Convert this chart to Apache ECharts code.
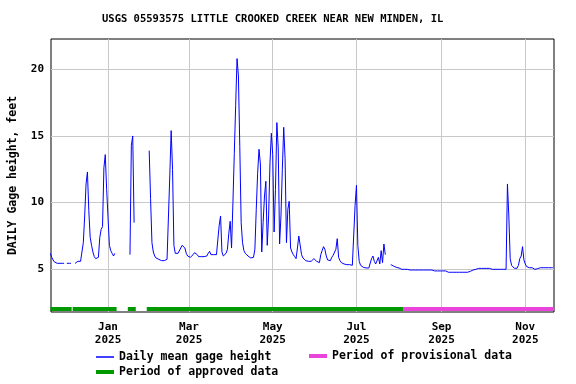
<!DOCTYPE html>
<html lang="en">
<head>
    <meta charset="UTF-8">
    <title>USGS 05593575</title>
    <script src="https://cdn.jsdelivr.net/npm/echarts@6/dist/echarts.min.js"></script>
    <style>
        *{
            margin: 0;
            padding: 0;
        }
        html,body{
            width: 100%;
            height: 100%;
            overflow: hidden;
            background: #fff;
        }
        .container{
            width: 576px;
            height: 384px;
        }
    </style>
</head>
<body>
<div class="container"></div>
<script>
    // daily mean gage height (feet), one value per day from 2024-11-20, null = no data
    const nov2024 = [6.2, 5.9, 5.7, 5.55, 5.5, 5.45, 5.45, 5.45, 5.45, 5.45, 5.45]
    const dec2024 = [null, 5.45, 5.45, 5.45, 5.45, null, null, 5.45, 5.55, 5.6,
        5.65, 5.6, 5.55, 7.0, 9.0, 11.4, 12.3, 9.4, 7.4, 6.8,
        6.3, 5.95, 5.8, 5.8, 5.9, 7.4, 8.0, 8.2, 12.6, 13.6, 11.0]
    const jan2025 = [8.9, 6.8, 6.4, 6.2, 6.0, 6.2, null, null, null, null,
        null, null, null, null, null, null, 6.1, 14.3, 15.0, 8.5,
        null, null, null, null, null, null, null, null, null, null, 13.9]
    const feb2025 = [10.3, 7.0, 6.3, 6.0, 5.85, 5.8, 5.75, 5.7, 5.65, 5.6,
        5.65, 5.7, 5.75, 5.8, 12.0, 15.4, 12.5, 6.8, 6.2, 6.1,
        6.2, 6.3, 6.6, 6.8, 6.9, 6.6, 6.2, 6.0]
    const mar2025 = [5.95, 5.9, 6.0, 6.1, 6.25, 6.3, 6.1, 5.95, 5.95, 5.95,
        5.95, 5.95, 6.0, 6.0, 6.2, 6.35, 6.1, 6.1, 6.1, 6.1,
        6.1, 7.2, 8.3, 9.0, 6.3, 6.0, 5.95, 6.2, 6.5, 7.7, 8.6]
    const apr2025 = [6.6, 10.0, 13.7, 17.3, 20.8, 19.5, 14.2, 8.5, 7.0, 6.4,
        6.2, 6.1, 6.0, 5.9, 5.85, 5.85, 5.9, 6.5, 9.5, 12.2,
        14.0, 12.9, 6.3, 8.5, 10.5, 11.6, 6.8, 9.0, 13.0, 15.2]
    const may2025 = [13.6, 7.8, 11.0, 16.0, 14.1, 6.9, 9.0, 12.5, 15.65, 13.3,
        7.0, 9.5, 10.1, 6.6, 6.3, 6.1, 5.95, 5.8, 6.6, 7.5,
        7.4, 6.1, 5.85, 5.75, 5.65, 5.65, 5.6, 5.6, 5.6, 5.6, 5.8]
    const jun2025 = [5.7, 5.6, 5.55, 5.5, 6.1, 6.4, 6.7, 6.5, 6.0, 5.7,
        5.65, 5.65, 5.9, 6.05, 6.05, 6.5, 7.3, 5.9, 5.65, 5.5,
        5.45, 5.4, 5.35, 5.35, 5.35, 5.35, 5.35, 5.3, 5.3, 9.8]
    const jul2025 = [11.3, 6.8, 5.6, 5.3, 5.2, 5.15, 5.1, 5.1, 5.1, 5.1,
        5.2, 5.8, 6.0, 5.6, 5.4, 5.4, 5.9, 5.4, 6.4, 5.5,
        6.9, 6.1, null, null, null, 5.35, 5.25, 5.25, 5.25, 5.15, 5.15]
    const aug2025 = [5.1, 5.0, 5.0, 5.0, 5.0, 5.0, 5.0, 5.0, 4.95, 4.95,
        4.95, 4.95, 4.95, 4.95, 4.95, 4.95, 4.95, 4.95, 4.95, 4.95,
        4.95, 4.95, 4.95, 4.95, 4.95, 4.95, 4.88, 4.88, 4.88, 4.88, 4.88]
    const sep2025 = [4.88, 4.88, 4.88, 4.88, 4.78, 4.78, 4.78, 4.78, 4.78, 4.78,
        4.78, 4.78, 4.78, 4.78, 4.78, 4.78, 4.78, 4.78, 4.78, 4.78,
        4.8, 4.85, 4.9, 4.95, 5.05, 5.0, 5.07, 5.07, 5.07, 5.07]
    const oct2025 = [5.07, 5.07, 5.07, 5.07, 5.07, 5.07, 5.07, 5.0, 5.0, 5.0,
        5.0, 5.0, 5.0, 5.0, 5.0, 5.0, 5.0, 5.0, 11.4, 9.0,
        5.8, 5.3, 5.2, 5.08, 5.08, 5.08, 5.3, 5.8, 6.0, 6.7, 5.7]
    const nov2025 = [5.4, 5.2, 5.15, 5.12, 5.12, 5.12, 5.12, 5.0, 5.0, 5.05,
        5.12, 5.12, 5.12, 5.12, 5.12, 5.12, 5.12, 5.12, 5.12, 5.12, 5.12]

    // qualification periods
    const approvedPeriods = [
        ['2024-11-20', '2024-12-05 12:00'],
        ['2024-12-06 06:00', '2025-01-07 06:00'],
        ['2025-01-15 10:00', '2025-01-21 05:00'],
        ['2025-01-29 05:00', '2025-08-04']
    ]
    const provisionalPeriods = [
        ['2025-08-04', '2025-11-22']
    ]

    const gageTicks = [5, 10, 15, 20]
    const monthTicks = ['2025-01-01', '2025-03-01', '2025-05-01', '2025-07-01', '2025-09-01', '2025-11-01']
    const monthNames = ['Jan', 'Feb', 'Mar', 'Apr', 'May', 'Jun', 'Jul', 'Aug', 'Sep', 'Oct', 'Nov', 'Dec']

    // 'YYYY-MM-DD[ HH:mm]' -> local timestamp
    function toTime(s) {
        let [day, hm] = s.split(' ')
        let [y, m, d] = day.split('-').map(Number)
        let [h, mi] = (hm || '0:0').split(':').map(Number)
        return new Date(y, m - 1, d, h, mi).getTime()
    }

    window.onload = function () {
        let container = document.querySelector('.container')
        let mycharts = echarts.init(container)

        const font = 'DejaVu Sans Mono'
        const barLevel = 2.02

        let daily = [].concat(nov2024, dec2024, jan2025, feb2025, mar2025, apr2025,
            may2025, jun2025, jul2025, aug2025, sep2025, oct2025, nov2025)
        let gageData = daily.map((v, i) => [new Date(2024, 10, 20 + i).getTime(), v == null ? '-' : v])

        function periodData(periods) {
            let out = []
            periods.forEach((p, i) => {
                if (i) out.push([toTime(p[0]), '-'])
                out.push([toTime(p[0]), barLevel], [toTime(p[1]), barLevel])
            })
            return out
        }

        let legendText = {fontFamily: font, fontSize: 11.5, fontWeight: 'bold', color: '#000'}
        // one legend per entry so each sample can keep its own thickness
        function legendAt(name, left, top, thick) {
            return {
                left: left, top: top, padding: 0,
                icon: 'rect',
                itemWidth: 18, itemHeight: thick, itemGap: 6,
                textStyle: legendText,
                data: [name]
            }
        }

        let options = {
            animation: false,
            backgroundColor: '#fff',
            title: {
                text: 'USGS 05593575 LITTLE CROOKED CREEK NEAR NEW MINDEN, IL',
                left: 102,
                top: 14,
                padding: 0,
                textStyle: {fontFamily: font, fontSize: 10.5, fontWeight: 'bold', color: '#000'}
            },
            grid: {
                left: 51, right: 22, top: 39, bottom: 72,
                outerBoundsMode: 'none',
                containLabel: false,
                show: true, borderColor: '#000', borderWidth: 1
            },
            legend: [
                legendAt('Daily mean gage height', 96, 351, 1.5),
                legendAt('Period of provisional data', 309, 350, 4),
                legendAt('Period of approved data', 96, 366, 4)
            ],
            xAxis: {
                type: 'value',
                min: new Date(2024, 10, 20, 11).getTime(),
                max: new Date(2025, 10, 21, 22).getTime(),
                axisLine: {show: false},
                axisTick: {show: false, customValues: monthTicks.map(toTime)},
                splitLine: {show: true, lineStyle: {color: '#c8c8c8', width: 1}},
                axisLabel: {
                    customValues: monthTicks.map(toTime),
                    margin: 8,
                    fontFamily: font, fontSize: 11, fontWeight: 'bold', color: '#000',
                    lineHeight: 13.5,
                    formatter: function (value) {
                        let d = new Date(value)
                        return monthNames[d.getMonth()] + '\n' + d.getFullYear()
                    }
                }
            },
            yAxis: {
                type: 'value',
                min: 1.8,
                max: 22.27,
                name: 'DAILY Gage height, feet',
                nameLocation: 'middle',
                nameGap: 32,
                nameTextStyle: {fontFamily: font, fontSize: 11.5, fontWeight: 'bold', color: '#000'},
                axisLine: {show: false},
                axisTick: {show: false, customValues: gageTicks},
                splitLine: {show: true, lineStyle: {color: '#c8c8c8', width: 1}},
                axisLabel: {
                    customValues: gageTicks,
                    margin: 7,
                    fontFamily: font, fontSize: 11, fontWeight: 'bold', color: '#000'
                }
            },
            series: [{
                name: 'Period of approved data',
                type: 'line',
                symbol: 'none',
                data: periodData(approvedPeriods),
                lineStyle: {color: '#009900', width: 4, cap: 'butt'},
                itemStyle: {color: '#009900'}
            }, {
                name: 'Period of provisional data',
                type: 'line',
                symbol: 'none',
                data: periodData(provisionalPeriods),
                lineStyle: {color: '#ea44da', width: 4, cap: 'butt'},
                itemStyle: {color: '#ea44da'}
            }, {
                name: 'Daily mean gage height',
                type: 'line',
                symbol: 'none',
                data: gageData,
                lineStyle: {color: '#0000ff', width: 1},
                itemStyle: {color: '#0000ff'}
            }]
        }

        mycharts.setOption(options)
    }
</script>
</body>
</html>
